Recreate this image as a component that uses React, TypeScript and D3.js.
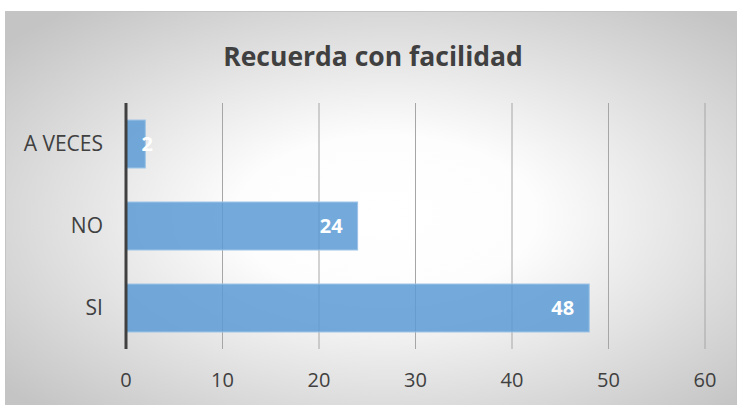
import React from "react";
import * as d3 from "d3";

const categories = ["A VECES", "NO", "SI"];
const values = [2, 24, 48];
const xTicks = [0, 10, 20, 30, 40, 50, 60];
const title = "Recuerda con facilidad";

export default function App() {
  const W = 737, H = 405;
  const x = d3.scaleLinear().domain([0, 60]).range([126, 705]);
  const y = d3.scaleBand().domain(categories).range([103, 349]).paddingInner(0.415).paddingOuter(0.2075);
  const font = "'Open Sans', sans-serif";
  return (
    <svg width={W} height={H} style={{ position: "absolute", left: 0, top: 0, background: "#fff" }}>
      <defs>
        <radialGradient id="bg" cx="0.52" cy="0.52" r="0.68" gradientUnits="objectBoundingBox">
          <stop offset="0" stopColor="#ffffff" />
          <stop offset="0.3" stopColor="#fdfdfd" />
          <stop offset="1" stopColor="#c4c4c4" />
        </radialGradient>
      </defs>
      <rect x={5.5} y={11.5} width={W - 6} height={H - 11} fill="url(#bg)" stroke="#c4c4c4" strokeWidth={1} />
      <text x={373} y={66} textAnchor="middle" fontFamily={font} fontWeight="bold" fontSize={26.5} fill="#404040">
        {title}
      </text>
      {xTicks.filter((t) => t !== 0).map((t) => (
        <line key={t} x1={x(t)} x2={x(t)} y1={103} y2={349} stroke="#a6a6a6" strokeWidth={1} />
      ))}
      {categories.map((c, i) => (
        <rect
          key={c}
          x={x(0)}
          y={y(c)!}
          width={x(values[i]) - x(0)}
          height={y.bandwidth()}
          fill="#5b9bd5"
          fillOpacity={0.85}
          stroke="#9dc3e6"
          strokeWidth={1}
        />
      ))}
      <line x1={x(0)} x2={x(0)} y1={103} y2={349} stroke="#404040" strokeWidth={3} />
      {categories.map((c, i) => (
        <text key={c} x={103} y={y(c)! + y.bandwidth() / 2} dy="0.35em" textAnchor="end" fontFamily={font} fontSize={21} fill="#404040">
          {c}
        </text>
      ))}
      {categories.map((c, i) => (
        <text
          key={c}
          x={Math.max(x(values[i]) - 15, x(0) + 27)}
          y={y(c)! + y.bandwidth() / 2}
          dy="0.35em"
          textAnchor="end"
          fontFamily={font}
          fontWeight="bold"
          fontSize={20}
          fill="#ffffff"
        >
          {values[i]}
        </text>
      ))}
      {xTicks.map((t) => (
        <text key={t} x={x(t)} y={380} dy="0.35em" textAnchor="middle" fontFamily={font} fontSize={20} fill="#404040">
          {t}
        </text>
      ))}
    </svg>
  );
}
